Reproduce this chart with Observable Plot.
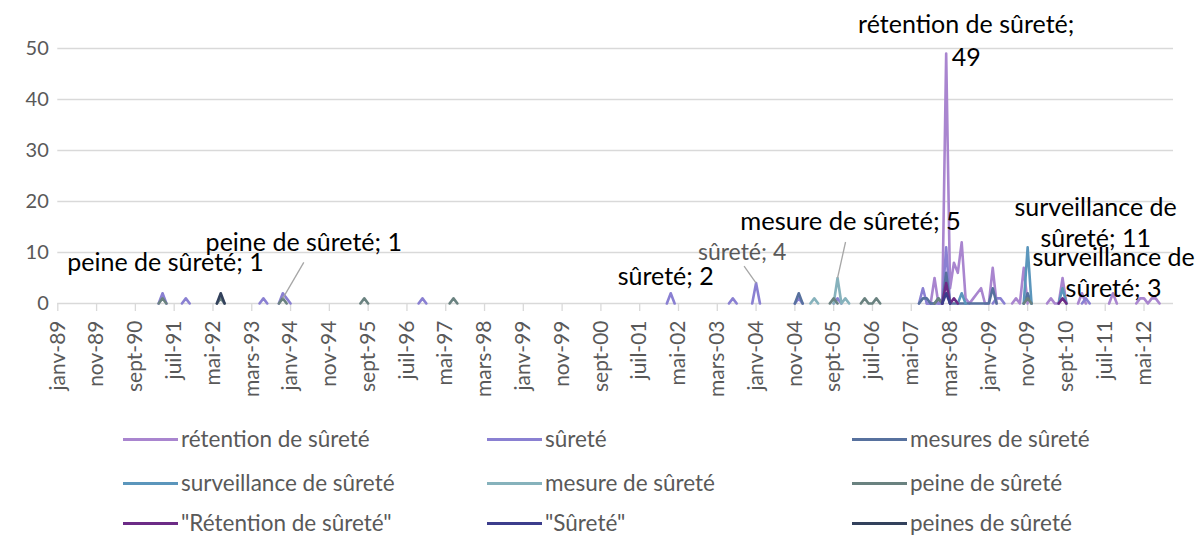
<!DOCTYPE html>
<html><head><meta charset="utf-8">
<script src="https://cdn.jsdelivr.net/npm/d3@7"></script>
<script src="https://cdn.jsdelivr.net/npm/@observablehq/plot@0.6"></script>
<style>
body{margin:0;background:#fff;font-family:Lato,"Open Sans",sans-serif;overflow:hidden;}
#chart{width:1203px;}
.legend{position:relative;height:127px;width:1203px;}
.item{position:absolute;display:flex;align-items:center;font-size:22.5px;line-height:24px;color:#595959;transform:translateY(-50%);white-space:nowrap;}
.sw{width:55px;height:3px;margin-right:3px;}
</style></head><body><div id="chart"></div><div class="legend" id="legend"></div>
<script>
// ---- data (month index: 0 = janvier 1989) ----
const seriesNames = ["rétention de sûreté","sûreté","mesures de sûreté","surveillance de sûreté","mesure de sûreté","peine de sûreté","\"Rétention de sûreté\"","\"Sûreté\"","peines de sûreté"];
const seriesColors = ["#A985CF","#8A80D2","#57719E","#5B96BC","#86B2BC","#6A8280","#6C2B86","#3C3D8C","#33415C"];

// runs: [first month, consecutive monthly values]
const retention = [[224,[0,0,5,0,0,49,3,8,6,12,1,0,1,2,3,0,0,7,0]],[246,[0,1,0,7,0]],[255,[0,1,0,0,5,0]],[263,[0,2,0]],[271,[0,2,0]],[278,[0,1,1,0,1,1,0]]];
const surete = [[26,[0,2,0]],[32,[0,1,0]],[52,[0,1,0]],[57,[0,2,1,0]],[93,[0,1,0]],[157,[0,2,0]],[173,[0,1,0]],[179,[0,4,0]],[190,[0,1,0]],[200,[0,1,0]],[222,[0,3,0,0,0,0,0,11,0]],[241,[0,1,1,0]],[264,[0,1,0]]];
const mesures = [[190,[0,2,0]],[222,[0,1,1,0,0,1,0,6,0,0,0,0,0,0,0,0,0,0,0,3,0]],[249,[0,2,0]]];
const surveillance = [[232,[0,2,0]],[249,[0,11,0]],[258,[0,3,0]]];
const mesure = [[194,[0,1,0]],[200,[0,5,0,1,0]]];
const peine = [[26,[0,1,0]],[41,[0,1,0]],[57,[0,1,0]],[78,[0,1,0]],[101,[0,1,0]],[199,[0,1,0]],[207,[0,1,0,0,1,0]],[226,[0,1,0]],[249,[0,1,0]]];
const retentionQ = [[228,[0,4,0,1,0]],[258,[0,1,0]]];
const sureteQ = [[228,[0,2,0]]];
const peines = [[41,[0,2,0]]];

const tickMonths = [0,10,20,30,40,50,60,70,80,90,100,110,120,130,140,150,160,170,180,190,200,210,220,230,240,250,260,270,280];
const tickLabels = ["janv-89","nov-89","sept-90","juil-91","mai-92","mars-93","janv-94","nov-94","sept-95","juil-96","mai-97","mars-98","janv-99","nov-99","sept-00","juil-01","mai-02","mars-03","janv-04","nov-04","sept-05","juil-06","mai-07","mars-08","janv-09","nov-09","sept-10","juil-11","mai-12"];
const yTicks = [0,10,20,30,40,50];

// data labels: which point of which series
const labelSeries = ["peine de sûreté","peine de sûreté","sûreté","sûreté","mesure de sûreté","rétention de sûreté","surveillance de sûreté","surveillance de sûreté"];
const labelMonths = [27,58,158,180,201,229,250,259];

// ---- build table ----
const allRuns = [retention,surete,mesures,surveillance,mesure,peine,retentionQ,sureteQ,peines];
const rows = [];
allRuns.forEach((runs,si)=>{
  runs.forEach(([start,vals])=>{
    vals.forEach((v,i)=>rows.push({series:seriesNames[si],m:start+i,v}));
    rows.push({series:seriesNames[si],m:NaN,v:NaN});
  });
});
const valueAt = (s,m)=>{const r=rows.find(d=>d.series===s&&d.m===m);return r?r.v:0;};

// label styling (pixel offsets from the point, text layout)
const labelStyle = [
  {dx:3,dy:-35,split:false,fill:"#000",size:25},
  {dx:21,dy:-55,split:false,fill:"#000",size:25,leader:[21,-36]},
  {dx:-5,dy:-16,split:false,fill:"#000",size:25},
  {dx:-14,dy:-30,split:false,fill:"#595959",size:23,leader:[-12,-17]},
  {dx:13,dy:-56,split:false,fill:"#000",size:25.5,leader:[8,-36]},
  {dx:20,dy:-15,split:"after;",fill:"#000",size:25,lh:1.32},
  {dx:68,dy:-26,split:"after de",fill:"#000",size:25,lh:1.24},
  {dx:51,dy:-17,split:"after de",fill:"#000",size:25,lh:1.24}
];

const X0=57.3, X1=1173, D1=287.6, YT=48, YB=303;
const pxPerMonth=(X1-X0)/D1, pxPerUnit=(YB-YT)/50;

const marks = [
  Plot.gridY(yTicks,{stroke:"#d9d9d9",strokeOpacity:1,strokeWidth:1.3}),
  Plot.axisY(yTicks,{label:null,tickSize:0,tickPadding:9,fontSize:20,fill:"#595959"}),
  Plot.axisX(tickMonths,{label:null,tickSize:8,tickPadding:9,tickRotate:-90,fontSize:21,fill:"#595959",stroke:"#d9d9d9",strokeWidth:1.3,tickFormat:d=>tickLabels[tickMonths.indexOf(d)]}),
  Plot.line(rows,{x:"m",y:"v",z:"series",stroke:"series",strokeWidth:2.6,strokeLinejoin:"round"})
];
labelSeries.forEach((s,i)=>{
  const st=labelStyle[i];
  const v=valueAt(s,labelMonths[i]);
  let txt=`${s}; ${v}`;
  if(st.split==="after;") txt=`${s};\n${v}`;
  if(st.split==="after de") txt=s.replace(" de "," de\n")+`; ${v}`;
  const d=[{m:labelMonths[i],v,txt}];
  if(st.leader){
    marks.push(Plot.link(d,{x1:"m",y1:"v",x2:r=>r.m+st.leader[0]/pxPerMonth,y2:r=>r.v-st.leader[1]/pxPerUnit,stroke:"#a6a6a6",strokeWidth:1.3}));
  }
  marks.push(Plot.text(d,{x:"m",y:"v",text:"txt",dx:st.dx,dy:st.dy,fill:st.fill,fontSize:st.size,lineAnchor:"middle",textAnchor:"middle",lineHeight:st.lh||1}));
});

const chart = Plot.plot({
  width:1203,height:410,
  marginLeft:X0,marginRight:1203-X1,marginTop:YT,marginBottom:410-YB,
  x:{domain:[0,D1],axis:null},
  y:{domain:[0,50],axis:null},
  color:{domain:seriesNames,range:seriesColors},
  style:{fontFamily:"Lato, 'Open Sans', sans-serif",background:"#fff",overflow:"visible"},
  marks
});
document.getElementById("chart").appendChild(chart);

// legend (HTML, below the SVG)
const leg=document.getElementById("legend");
const colX=[123,487,852], rowY=[29,73,113];
seriesNames.forEach((n,i)=>{
  const it=document.createElement("div");
  it.className="item";
  it.style.left=colX[i%3]+"px";
  it.style.top=rowY[Math.floor(i/3)]+"px";
  it.innerHTML=`<span class="sw" style="background:${seriesColors[i]}"></span><span></span>`;
  it.lastChild.textContent=n;
  leg.appendChild(it);
});
</script></body></html>
